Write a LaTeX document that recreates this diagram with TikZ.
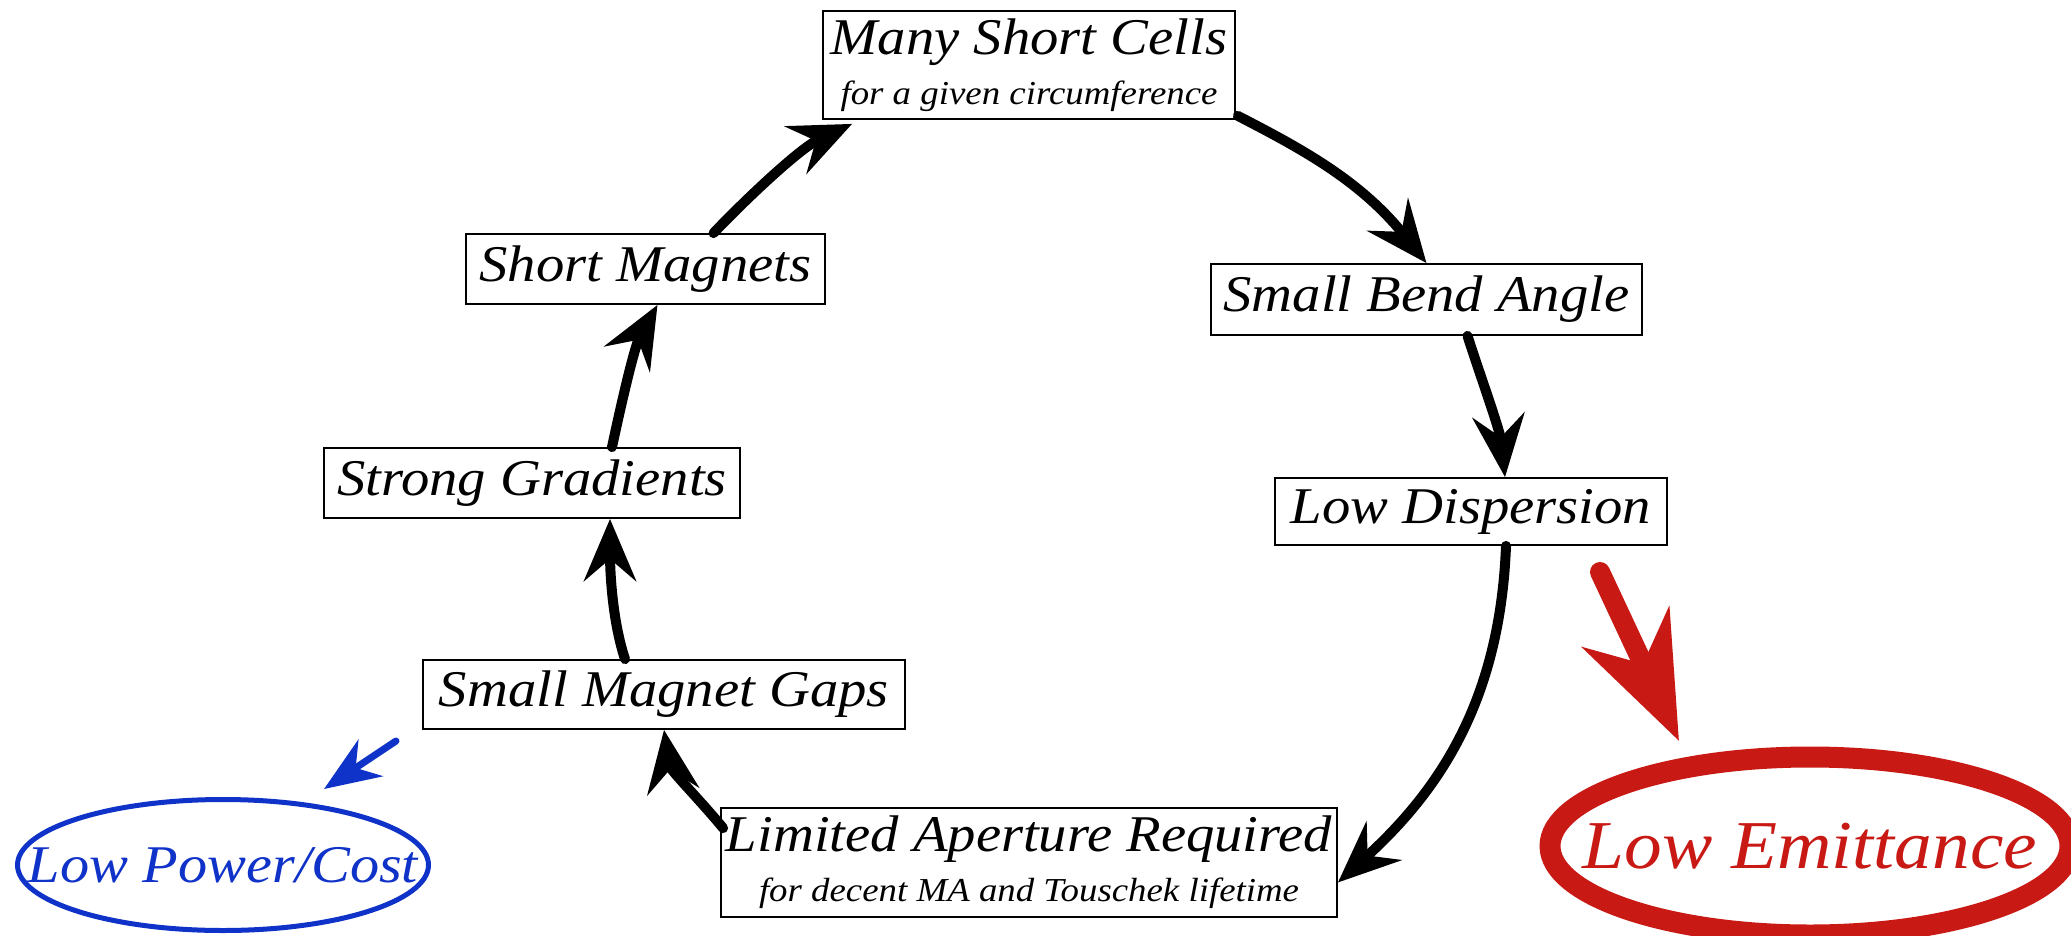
\documentclass[tikz,border=0pt]{standalone}
\usepackage{fontspec}
\setmainfont{Liberation Serif}[ItalicFeatures={FakeStretch=1.1}]
\usetikzlibrary{arrows.meta,shapes.geometric}
\definecolor{emred}{HTML}{C81914}
\definecolor{pcblue}{HTML}{0F32C8}
\newcommand{\mainsz}{\fontsize{51.5}{50}\selectfont\itshape}
\newcommand{\subsz}{\fontsize{33.5}{36}\selectfont\itshape}
\tikzset{
  box/.style={draw, line width=1.8pt, inner sep=0pt, align=center, font=\mainsz},
  flow/.style={line width=10pt, line cap=round, -{Stealth[length=62pt,width=52pt,inset=22pt]}},
}
\begin{document}
\begin{tikzpicture}[x=1pt,y=-1pt]
\useasboundingbox (0,0) rectangle (2071,936);
% boxes
\node[box, minimum width=412pt, minimum height=108pt] (msc) at (1029,65)
  {Many Short Cells\\{\subsz for a given circumference}};
\node[box, minimum width=431pt, minimum height=71pt] (sba) at (1426.5,299.5) {Small Bend Angle};
\node[box, minimum width=392pt, minimum height=67pt] (ld) at (1471,511.5) {Low Dispersion};
\node[box, minimum width=616pt, minimum height=109pt] (la) at (1029,862.5)
  {Limited Aperture Required\\{\subsz for decent MA and Touschek lifetime}};
\node[box, minimum width=482pt, minimum height=69pt] (smg) at (664,694.5) {Small Magnet Gaps};
\node[box, minimum width=416pt, minimum height=70pt] (sg) at (532,483) {Strong Gradients};
\node[box, minimum width=359pt, minimum height=70pt] (sm) at (645.5,269) {Short Magnets};
% ellipses
\node[ellipse, draw=emred, line width=21pt, minimum width=520pt, minimum height=178pt, inner sep=0pt,
  text=emred, font=\fontsize{68.5}{66}\selectfont\itshape] (le) at (1810,846) {\makebox[0pt]{Low Emittance}};
\node[ellipse, draw=pcblue, line width=5pt, minimum width=411pt, minimum height=131pt, inner sep=0pt,
  text=pcblue, font=\fontsize{53}{54}\selectfont\itshape] (lpc) at (223,865) {\makebox[0pt]{Low Power/Cost}};
% cycle arrows
\draw[flow] ([xshift=2pt,yshift=4pt]msc.south east) .. controls (1300,148) and (1360,180) .. (sba.north);
\draw[flow] ([xshift=41pt]sba.south) .. controls (1480,375) and (1500,430) .. ([xshift=34pt]ld.north);
\draw[flow] ([xshift=35pt]ld.south) .. controls (1500,700) and (1440,790) .. ([yshift=-20pt]la.east);
\draw[flow] ([xshift=3pt,yshift=-21pt]la.north west) .. controls (700,800) and (670,770) .. (smg.south);
\draw[flow] ([xshift=-39pt]smg.north) .. controls (612,620) and (610,570) .. ([xshift=78pt]sg.south);
\draw[flow] ([xshift=80pt]sg.north) .. controls (622,400) and (635,345) .. ([xshift=12pt]sm.south);
\draw[flow] ([xshift=68pt]sm.north) .. controls (745,200) and (800,148) .. ([xshift=30pt,yshift=-4pt]msc.south west);
% side arrows
\coordinate (redstart) at (1600,572);
\coordinate (redtip) at (1679,741);
\draw[emred, line width=20pt, line cap=round, -{Stealth[length=125pt,width=95pt,inset=40pt]}] (redstart) -- (redtip);
\coordinate (bluestart) at (396,741);
\coordinate (bluetip) at (324,789);
\draw[pcblue, line width=7pt, line cap=round, -{Stealth[length=56pt,width=44pt,inset=18pt]}] (bluestart) -- (bluetip);
\end{tikzpicture}
\end{document}
